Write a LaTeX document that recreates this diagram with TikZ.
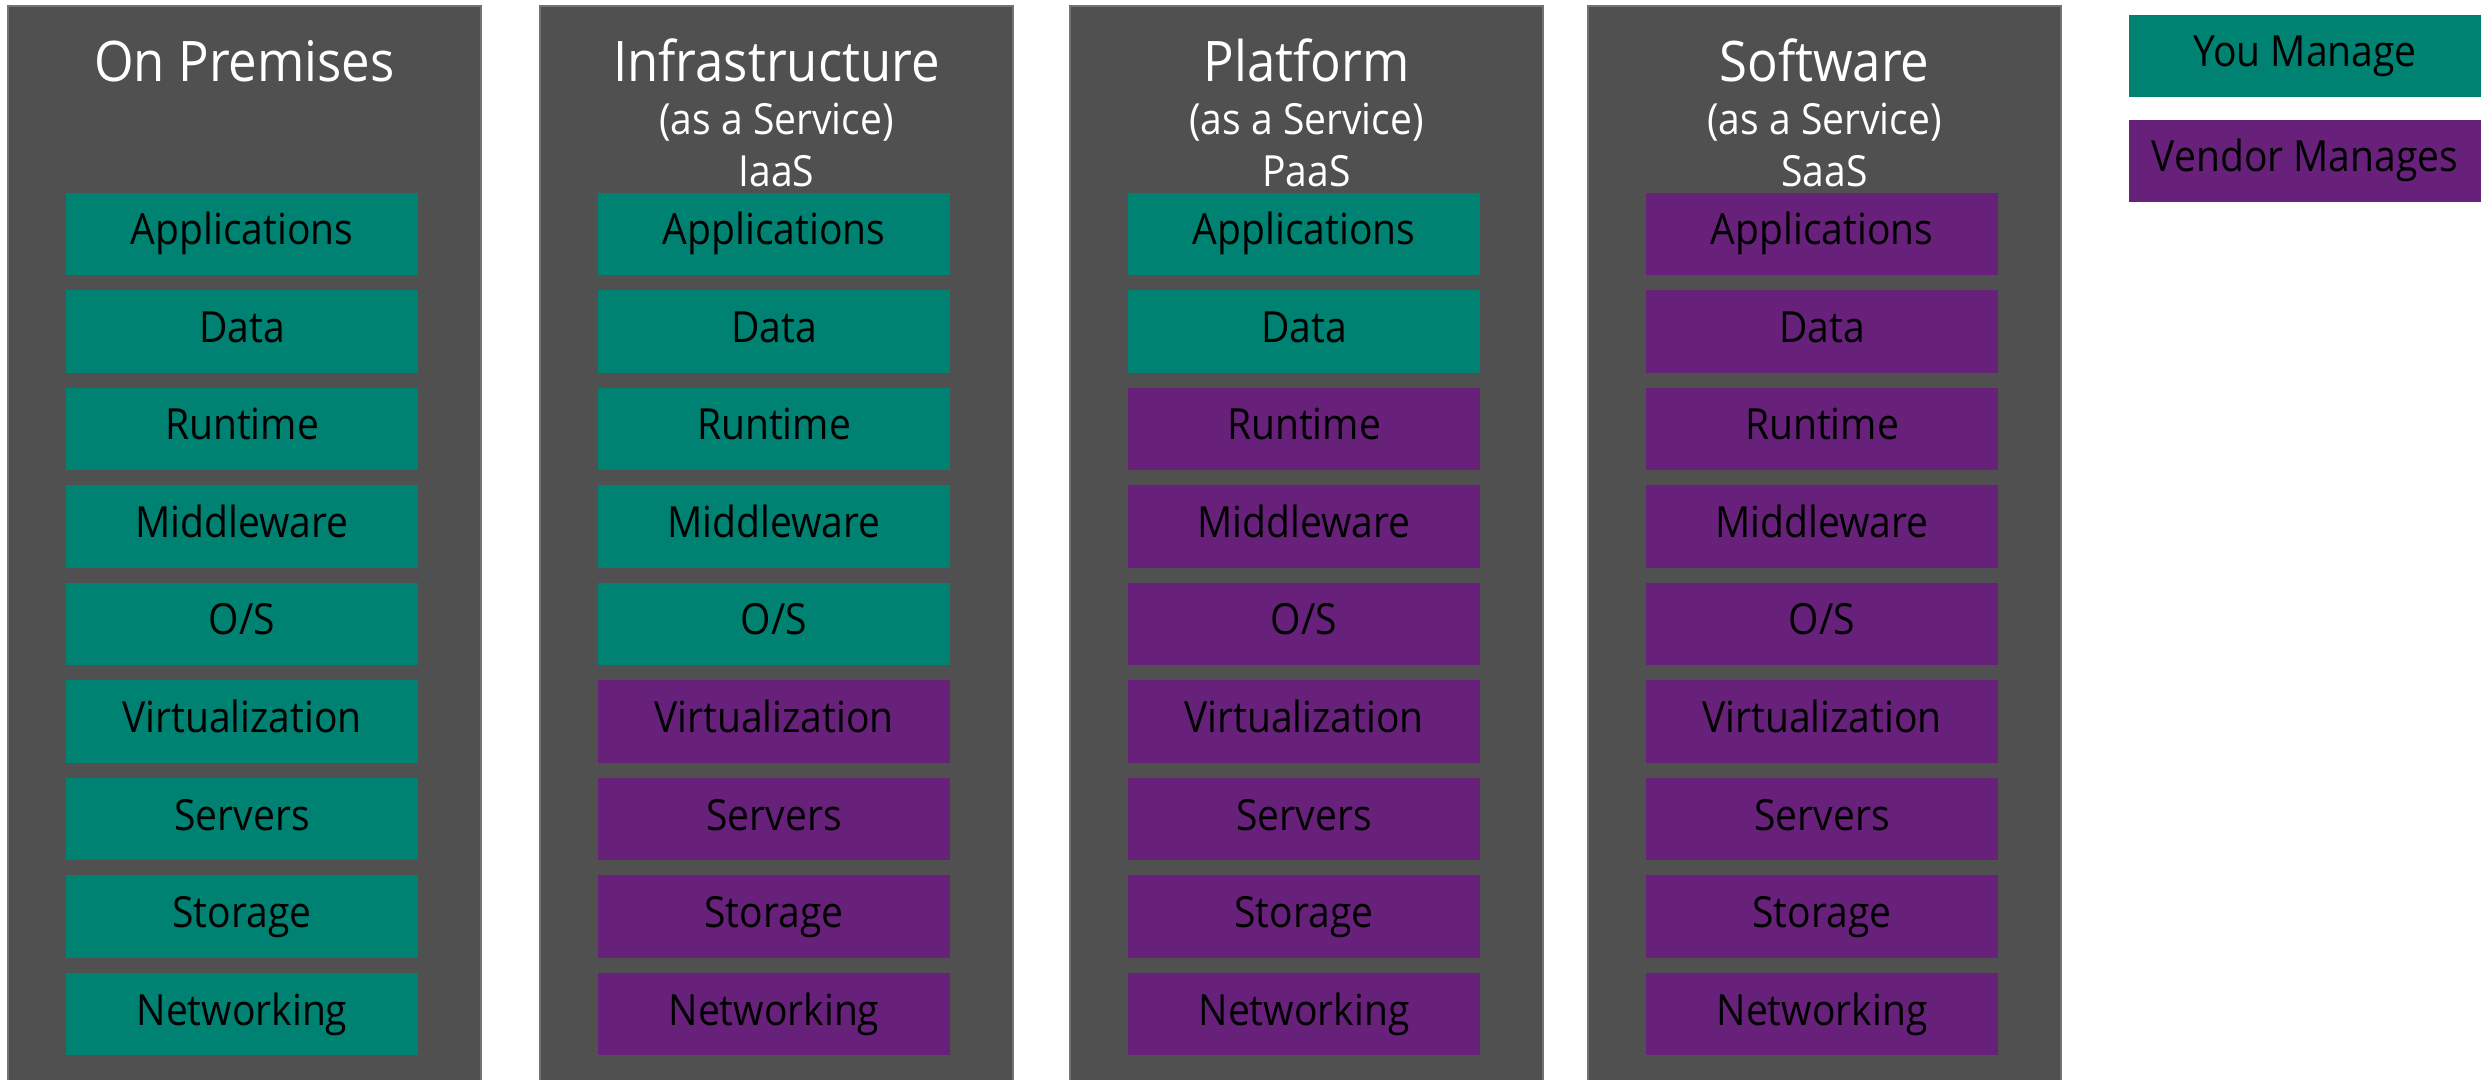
\documentclass[tikz,border=0pt]{standalone}
\usepackage{fontspec}
\setmainfont{Open Sans}[FakeStretch=0.91]
\usetikzlibrary{positioning}
\definecolor{columngray}{HTML}{505050}
\definecolor{youteal}{HTML}{008272}
\definecolor{vendorpurple}{HTML}{68217A}

\begin{document}
\begin{tikzpicture}[x=0.01cm,y=-0.01cm,
                    column/.style={fill=columngray,draw=black!55,line width=0.6pt},
                    layer/.style={minimum width=3.52cm,minimum height=0.82cm,inner sep=0pt,
                                  text height=0.30cm,text depth=0.08cm,
                                  font=\fontsize{12.2pt}{14pt}\selectfont},
                    heading/.style={text=white,anchor=base,font=\fontsize{15.9pt}{18pt}\selectfont},
                    subheading/.style={text=white,anchor=base,font=\fontsize{12.2pt}{14pt}\selectfont}]

  \useasboundingbox (0,0) rectangle (2487,1080);

  % the four stacks, first rows are "you manage"
  \foreach \col/\x/\nyou in {1/8/9, 2/540/5, 3/1070/2, 4/1588/0} {
    \draw[column] (\x,6) rectangle ++(473,1100);
    \foreach \name [count=\i] in {Applications,Data,Runtime,Middleware,O/S,
                                  Virtualization,Servers,Storage,Networking} {
      \ifnum\i>\nyou \def\fillcol{vendorpurple}\else\def\fillcol{youteal}\fi
      \node[layer,fill=\fillcol] (c\col r\i) at (\x+234,234+97.5*\i-97.5) {\name};
    }
  }

  \node[heading]    (onprem)    at (244.5,82)  {On Premises};

  \node[heading]    (iaas)      at (776.5,82)  {Infrastructure};
  \node[subheading] (iaas-sub)  at (776.5,135) {(as a Service)};
  \node[subheading] (iaas-abbr) at (776.5,187) {IaaS};

  \node[heading]    (paas)      at (1306.5,82)  {Platform};
  \node[subheading] (paas-sub)  at (1306.5,135) {(as a Service)};
  \node[subheading] (paas-abbr) at (1306.5,187) {PaaS};

  \node[heading]    (saas)      at (1824.5,82)  {Software};
  \node[subheading] (saas-sub)  at (1824.5,135) {(as a Service)};
  \node[subheading] (saas-abbr) at (1824.5,187) {SaaS};

  % legend
  \node[layer,fill=youteal]      (you)    at (2305,56)  {You Manage};
  \node[layer,fill=vendorpurple] (vendor) at (2305,161) {Vendor Manages};
\end{tikzpicture}
\end{document}
